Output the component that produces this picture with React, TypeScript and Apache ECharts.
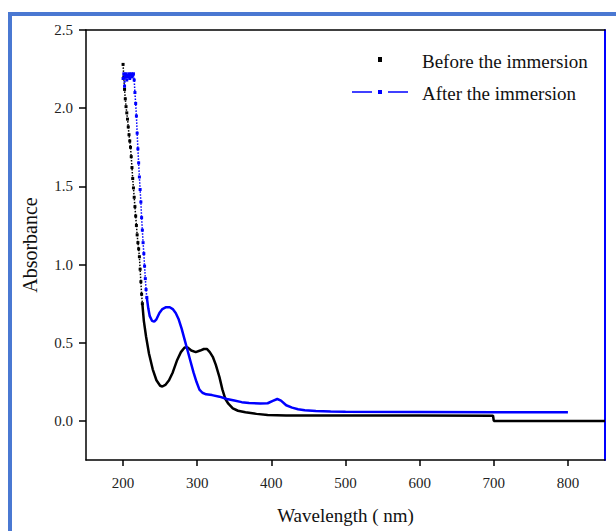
import React, { useEffect, useRef } from "react";
import * as echarts from "echarts";

// Before the immersion — steep dotted section (nm, absorbance)
const beforeSteepNm = [200, 201, 202, 203, 204, 205, 206, 207, 208, 209, 210, 211, 212, 213, 214, 215, 216, 217, 218, 219, 220, 221, 222, 223, 224, 225, 226];
const beforeSteepAbs = [2.28, 2.2, 2.12, 2.06, 2.01, 1.97, 1.93, 1.88, 1.83, 1.79, 1.75, 1.69, 1.62, 1.55, 1.49, 1.43, 1.37, 1.31, 1.25, 1.19, 1.14, 1.1, 1.05, 0.97, 0.89, 0.81, 0.75];
// Before the immersion — solid section
const beforeNm = [226, 228, 231, 235, 240, 245, 250, 253, 257, 262, 267, 273, 278, 283, 287, 292, 298, 304, 309, 313, 317, 321, 325, 330, 334, 338, 342, 348, 355, 365, 380, 395, 420, 500, 600, 699, 700, 850];
const beforeAbs = [0.75, 0.64, 0.54, 0.43, 0.33, 0.26, 0.225, 0.22, 0.23, 0.26, 0.31, 0.39, 0.44, 0.47, 0.47, 0.45, 0.44, 0.45, 0.46, 0.46, 0.44, 0.41, 0.36, 0.28, 0.2, 0.14, 0.11, 0.08, 0.065, 0.055, 0.045, 0.038, 0.035, 0.035, 0.034, 0.033, 0.0, 0.0];

// After the immersion — steep dotted section
const afterSteepNm = [200, 201, 202, 203, 204, 205, 206, 207, 208, 209, 210, 211, 212, 213, 214, 215, 216, 217, 218, 219, 220, 221, 222, 223, 224, 225, 226, 227, 228, 229, 230, 231, 232];
const afterSteepAbs = [2.19, 2.22, 2.14, 2.2, 2.22, 2.18, 2.21, 2.2, 2.22, 2.19, 2.21, 2.22, 2.2, 2.21, 2.22, 2.18, 2.1, 2.03, 1.95, 1.84, 1.74, 1.65, 1.56, 1.48, 1.4, 1.3, 1.22, 1.14, 1.07, 0.99, 0.91, 0.84, 0.79];
// After the immersion — solid section
const afterNm = [232, 234, 236, 239, 242, 245, 249, 253, 258, 263, 267, 271, 275, 279, 283, 287, 291, 295, 299, 303, 307, 312, 320, 330, 340, 350, 360, 370, 385, 395, 402, 408, 413, 420, 428, 436, 445, 460, 480, 500, 600, 700, 800];
const afterAbs = [0.79, 0.72, 0.67, 0.64, 0.635, 0.65, 0.69, 0.715, 0.727, 0.727, 0.715, 0.69, 0.65, 0.59, 0.52, 0.45, 0.38, 0.31, 0.25, 0.2, 0.18, 0.17, 0.165, 0.155, 0.14, 0.13, 0.12, 0.115, 0.112, 0.113, 0.128, 0.14, 0.13, 0.1, 0.085, 0.075, 0.068, 0.063, 0.06, 0.058, 0.057, 0.056, 0.055];

const xTicks = [200, 300, 400, 500, 600, 700, 800];
const yTicks = [0, 0.5, 1.0, 1.5, 2.0, 2.5];

const seriesNames = ["Before the immersion", "After the immersion"];

const zip = (xs: number[], ys: number[]) => xs.map((x, i) => [x, ys[i]]);

const FONT = "'Liberation Serif', 'Times New Roman', serif";
const BLUE = "#0000FF";
const FRAME = "#4A78D2";

export default function App() {
  const ref = useRef<HTMLDivElement>(null);
  useEffect(() => {
    if (!ref.current) return;
    const chart = echarts.init(ref.current, null, { renderer: "svg" });
    const option: any = {
      animation: false,
      backgroundColor: "#ffffff",
      grid: { left: 86, right: 11, top: 30, bottom: 71, containLabel: false },
      xAxis: [
        {
          type: "value",
          min: 150,
          max: 850,
          name: "Wavelength ( nm)",
          nameLocation: "middle",
          nameGap: 46,
          nameTextStyle: { fontFamily: FONT, fontSize: 19, color: "#111" },
          axisLine: { show: true, onZero: false, lineStyle: { color: "#000", width: 1.5 } },
          axisTick: { show: true, inside: false, length: 6, customValues: xTicks, lineStyle: { color: "#000", width: 1.5 } },
          axisLabel: { show: true, customValues: xTicks, margin: 15, fontFamily: FONT, fontSize: 15, color: "#222" },
          splitLine: { show: false },
        },
        {
          type: "value",
          position: "top",
          min: 150,
          max: 850,
          axisLine: { show: true, onZero: false, lineStyle: { color: "#000", width: 1.5 } },
          axisTick: { show: false },
          axisLabel: { show: false },
          splitLine: { show: false },
        },
      ],
      yAxis: [
        {
          type: "value",
          min: -0.25,
          max: 2.5,
          name: "Absorbance",
          nameLocation: "middle",
          nameRotate: 90,
          nameGap: 46,
          nameTextStyle: { fontFamily: FONT, fontSize: 20, color: "#111" },
          axisLine: { show: true, onZero: false, lineStyle: { color: "#000", width: 1.5 } },
          axisTick: { show: true, inside: false, length: 7, customValues: yTicks, lineStyle: { color: "#000", width: 1.5 } },
          axisLabel: {
            show: true,
            customValues: yTicks,
            margin: 13,
            fontFamily: FONT,
            fontSize: 15,
            color: "#222",
            formatter: (v: number) => v.toFixed(1),
          },
          splitLine: { show: false },
        },
        {
          type: "value",
          position: "right",
          min: -0.25,
          max: 2.5,
          axisLine: { show: true, onZero: false, lineStyle: { color: BLUE, width: 2 } },
          axisTick: { show: false },
          axisLabel: { show: false },
          splitLine: { show: false },
        },
      ],
      series: [
        {
          name: seriesNames[0],
          type: "line",
          data: zip(beforeNm, beforeAbs),
          showSymbol: false,
          symbol: "none",
          lineStyle: { color: "#000", width: 2.5 },
          itemStyle: { color: "#000" },
          z: 3,
        },
        {
          name: seriesNames[0],
          type: "line",
          data: zip(beforeSteepNm, beforeSteepAbs),
          showSymbol: true,
          symbol: "rect",
          symbolSize: 3,
          lineStyle: { color: "#000", width: 1.5, type: "dotted" },
          itemStyle: { color: "#000" },
          z: 3,
        },
        {
          name: seriesNames[1],
          type: "line",
          data: zip(afterNm, afterAbs),
          showSymbol: false,
          symbol: "none",
          lineStyle: { color: BLUE, width: 2.5 },
          itemStyle: { color: BLUE },
          z: 4,
        },
        {
          name: seriesNames[1],
          type: "line",
          data: zip(afterSteepNm, afterSteepAbs),
          showSymbol: true,
          symbol: "rect",
          symbolSize: 3,
          lineStyle: { color: BLUE, width: 1.5, type: "dotted" },
          itemStyle: { color: BLUE },
          z: 4,
        },
      ],
      graphic: [
        { type: "rect", shape: { x: 8, y: 12, width: 608, height: 4 }, style: { fill: FRAME }, silent: true },
        { type: "rect", shape: { x: 8, y: 12, width: 4, height: 519 }, style: { fill: FRAME }, silent: true },
        // legend
        { type: "rect", shape: { x: 378, y: 57, width: 4, height: 5 }, style: { fill: "#000" } },
        {
          type: "text",
          x: 422,
          y: 61,
          style: { text: seriesNames[0], fontFamily: FONT, fontSize: 19, fill: "#111", verticalAlign: "middle", align: "left" },
        },
        { type: "line", shape: { x1: 352, y1: 92, x2: 372, y2: 92 }, style: { stroke: BLUE, lineWidth: 1.5 } },
        { type: "rect", shape: { x: 378, y: 90, width: 4, height: 4 }, style: { fill: BLUE } },
        { type: "line", shape: { x1: 388, y1: 92, x2: 408, y2: 92 }, style: { stroke: BLUE, lineWidth: 1.5 } },
        {
          type: "text",
          x: 422,
          y: 93,
          style: { text: seriesNames[1], fontFamily: FONT, fontSize: 19, fill: "#111", verticalAlign: "middle", align: "left" },
        },
      ],
    };
    chart.setOption(option);
    return () => chart.dispose();
  }, []);
  return (
    <div
      ref={ref}
      style={{ position: "fixed", left: 0, top: 0, width: 616, height: 531, background: "#fff" }}
    />
  );
}
